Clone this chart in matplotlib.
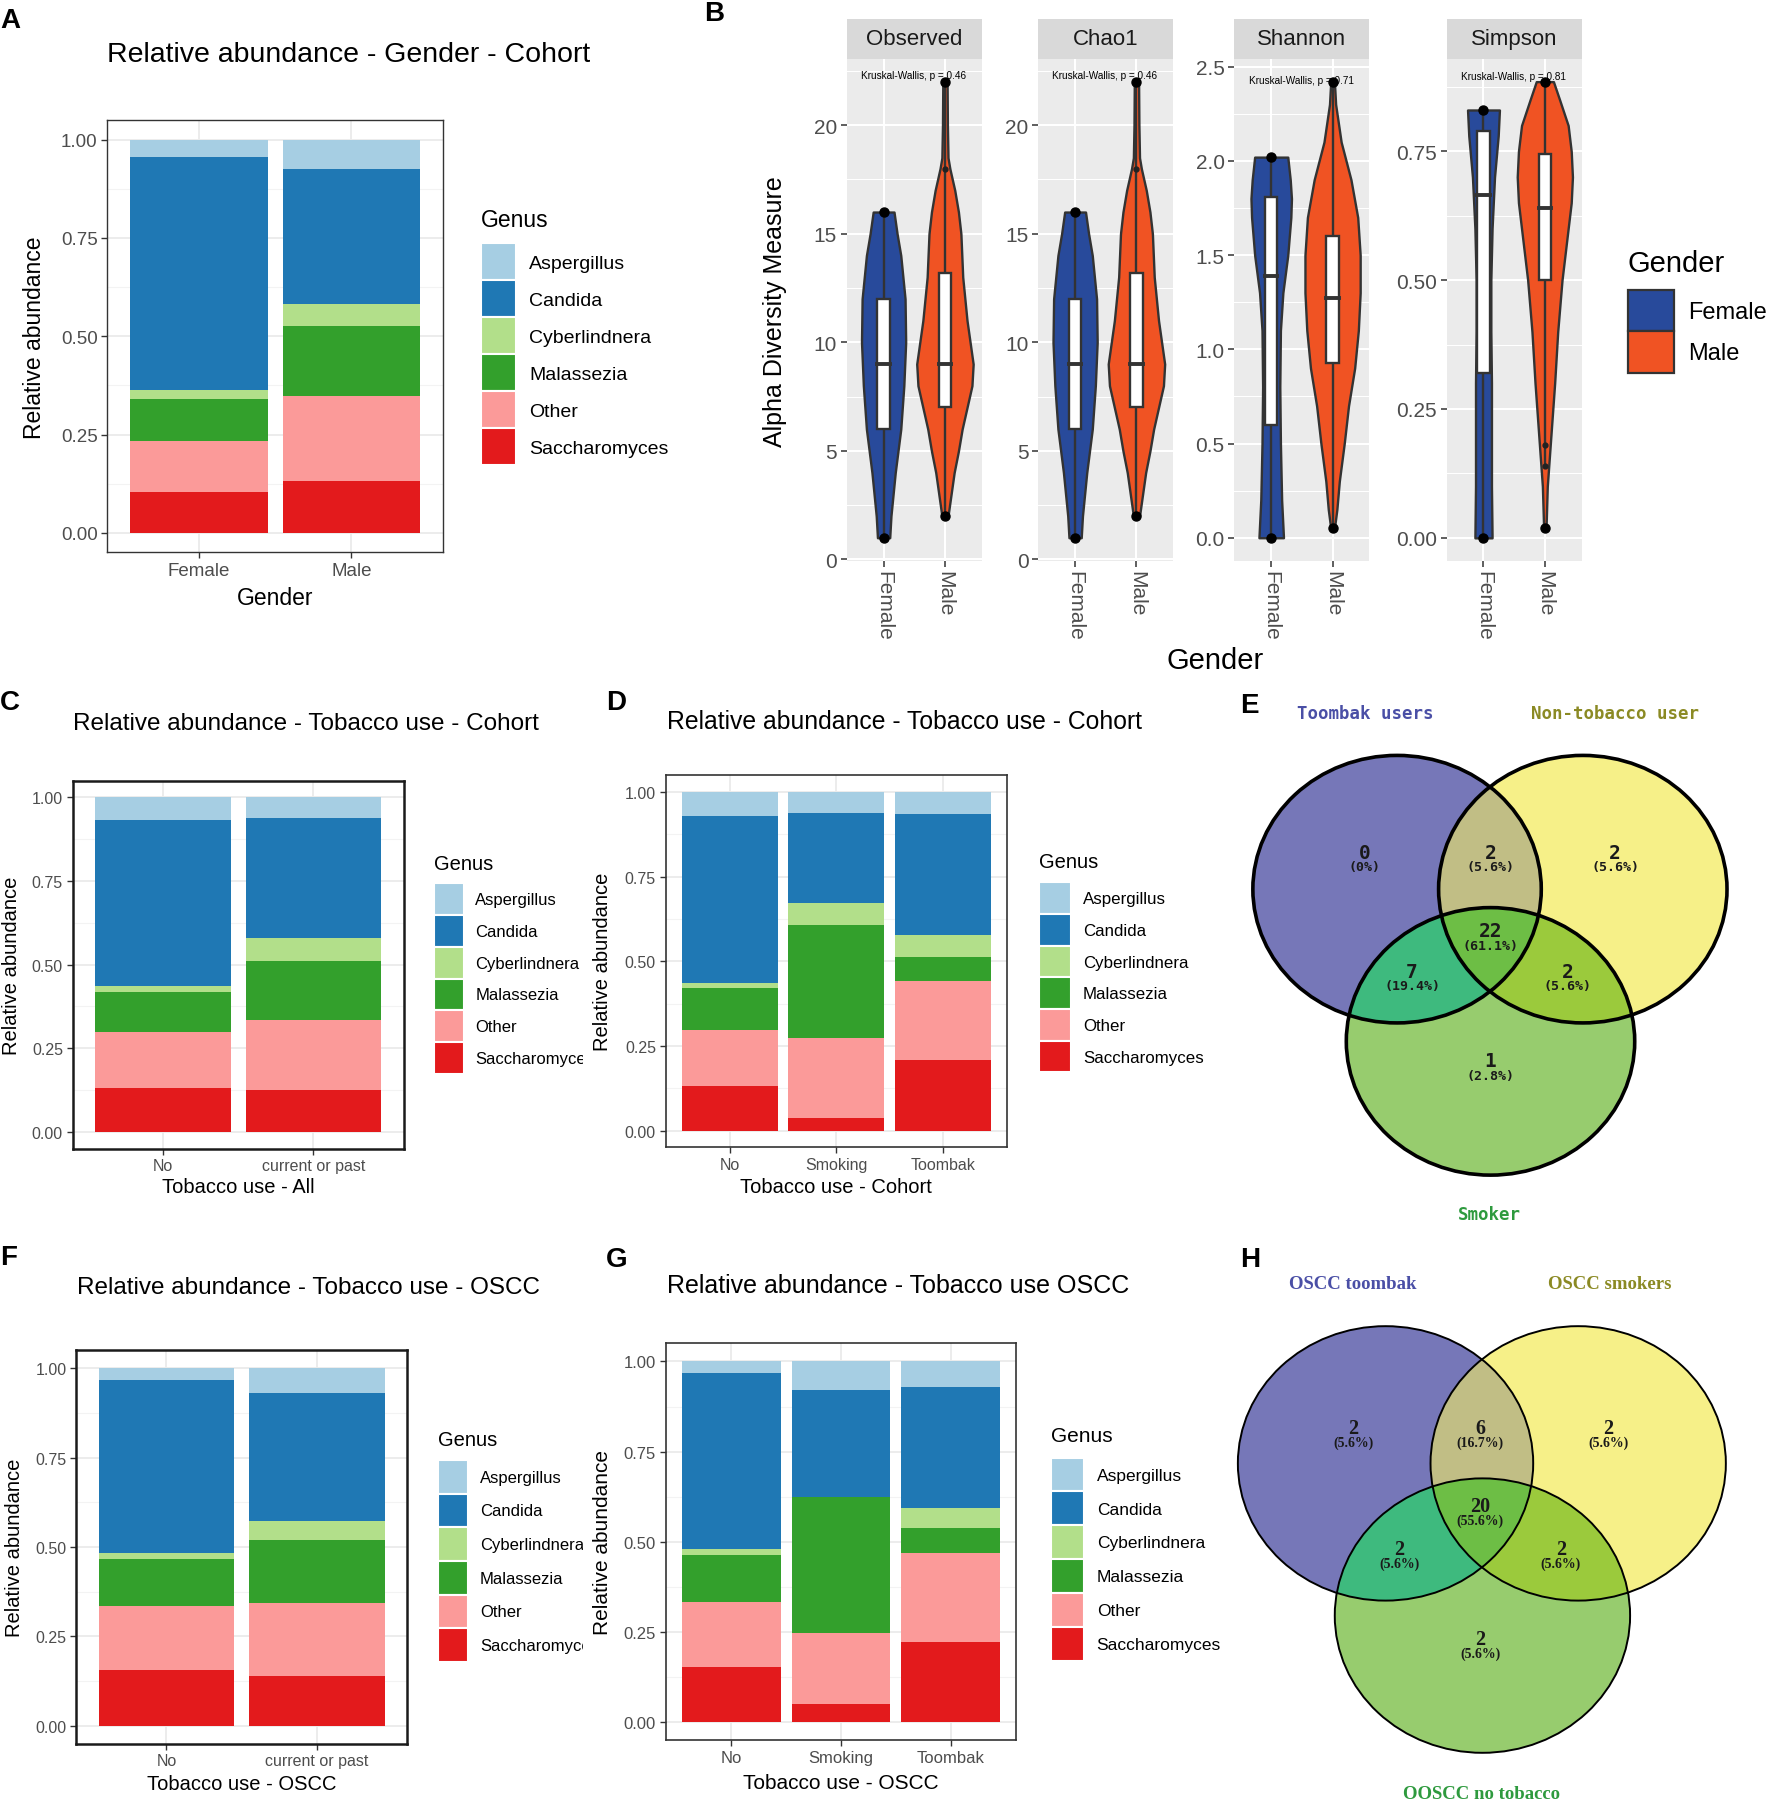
import numpy as np
import matplotlib
matplotlib.use('Agg')
import matplotlib.pyplot as plt
from matplotlib.patches import Patch, Rectangle, Ellipse, Polygon
from matplotlib.ticker import FixedLocator
from matplotlib.transforms import Bbox, TransformedBbox

plt.rcParams['font.family'] = ['Liberation Sans', 'DejaVu Sans']

# ── Data: relative abundance (segment heights, genus order) ──────────
genus = ['Aspergillus', 'Candida', 'Cyberlindnera', 'Malassezia', 'Other', 'Saccharomyces']
genus_colors = ['#A6CEE3', '#1F78B4', '#B2DF8A', '#33A02C', '#FB9A99', '#E31A1C']

A_groups = ['Female', 'Male']
A_abund = [[0.045, 0.591, 0.023, 0.107, 0.129, 0.105],
           [0.074, 0.345, 0.054, 0.179, 0.215, 0.133]]

C_groups = ['No', 'current or past']
C_abund = [[0.068, 0.495, 0.018, 0.121, 0.167, 0.131],
           [0.062, 0.358, 0.069, 0.177, 0.208, 0.126]]

D_groups = ['No', 'Smoking', 'Toombak']
D_abund = [[0.071, 0.492, 0.017, 0.122, 0.166, 0.132],
           [0.063, 0.265, 0.064, 0.335, 0.236, 0.037],
           [0.066, 0.358, 0.064, 0.069, 0.234, 0.209]]

F_groups = ['No', 'current or past']
F_abund = [[0.032, 0.486, 0.016, 0.131, 0.180, 0.155],
           [0.070, 0.358, 0.053, 0.176, 0.204, 0.139]]

G_groups = ['No', 'Smoking', 'Toombak']
G_abund = [[0.033, 0.486, 0.017, 0.131, 0.179, 0.154],
           [0.080, 0.296, 0.000, 0.377, 0.197, 0.050],
           [0.072, 0.333, 0.057, 0.069, 0.246, 0.223]]

# ── Data: alpha diversity (violin outline = level / half width) ─────
gender = ['Female', 'Male']
gender_colors = ['#284A9B', '#F05323']
measures = ['Observed', 'Chao1', 'Shannon', 'Simpson']
kw_p = ['0.46', '0.46', '0.71', '0.81']

obs_female_lv = [1, 2, 4, 6, 8, 10, 12, 14, 15, 16]
obs_female_hw = [0.10, 0.12, 0.19, 0.28, 0.33, 0.36, 0.35, 0.28, 0.22, 0.17]
obs_male_lv = [2, 3, 4, 5, 6, 7, 8, 9, 11, 13, 15, 16, 17, 18, 18.5, 20, 22]
obs_male_hw = [0.05, 0.10, 0.15, 0.22, 0.28, 0.36, 0.44, 0.46, 0.36, 0.29, 0.26,
               0.22, 0.16, 0.08, 0.05, 0.04, 0.035]
obs_box = [[6, 9, 12, 1, 16], [7, 9, 13.2, 2, 22]]   # q1, median, q3, lower, upper
obs_points = [[1, 16], [2, 22]]
obs_small = [[], [18]]

sha_female_lv = [0, 0.2, 0.5, 0.8, 1.1, 1.3, 1.5, 1.7, 1.8, 1.9, 2.02]
sha_female_hw = [0.20, 0.17, 0.15, 0.14, 0.15, 0.19, 0.27, 0.32, 0.33, 0.31, 0.27]
sha_male_lv = [0.05, 0.15, 0.3, 0.5, 0.7, 0.9, 1.1, 1.3, 1.5, 1.7, 1.9, 2.1, 2.3, 2.42]
sha_male_hw = [0.03, 0.07, 0.11, 0.19, 0.26, 0.36, 0.42, 0.45, 0.45, 0.41, 0.30, 0.14, 0.05, 0.03]
sha_box = [[0.6, 1.39, 1.81, 0, 2.02], [0.93, 1.27, 1.6, 0.05, 2.42]]
sha_points = [[0, 2.02], [0.05, 2.42]]
sha_small = [[], []]

sim_female_lv = [0, 0.1, 0.2, 0.3, 0.4, 0.5, 0.6, 0.7, 0.78, 0.83]
sim_female_hw = [0.14, 0.13, 0.13, 0.13, 0.12, 0.12, 0.14, 0.18, 0.24, 0.26]
sim_male_lv = [0.02, 0.1, 0.15, 0.2, 0.3, 0.4, 0.5, 0.6, 0.65, 0.7, 0.75, 0.8, 0.85, 0.885]
sim_male_hw = [0.02, 0.04, 0.07, 0.10, 0.16, 0.21, 0.28, 0.38, 0.43, 0.45, 0.43, 0.38, 0.24, 0.14]
sim_box = [[0.32, 0.665, 0.79, 0, 0.83], [0.5, 0.64, 0.745, 0.14, 0.885]]
sim_points = [[0, 0.83], [0.02, 0.885]]
sim_small = [[], [0.14, 0.18]]

# ── Data: Venn diagrams (regions: A, AB, B, ABC, AC, BC, C) ─────────
E_sets = ['Toombak users', 'Non-tobacco user', 'Smoker']
E_counts = ['0', '2', '2', '22', '7', '2', '1']
E_pcts = ['(0%)', '(5.6%)', '(5.6%)', '(61.1%)', '(19.4%)', '(5.6%)', '(2.8%)']

H_sets = ['OSCC toombak', 'OSCC smokers', 'OOSCC no tobacco']
H_counts = ['2', '6', '2', '20', '2', '2', '2']
H_pcts = ['(5.6%)', '(16.7%)', '(5.6%)', '(55.6%)', '(5.6%)', '(5.6%)', '(5.6%)']

venn_colors = ['#7677B8', '#C1BE85', '#F6F088', '#6DBE45', '#3EBA7E', '#9BCA3C', '#97CC6E']
set_text_colors = ['#4A4FA6', '#8B8A24', '#2E9A3E']

# ── Layout helpers (positions on a 1536 x 1568 grid) ────────────────
W, H = 1536, 1568
fig = plt.figure(figsize=(17.72, 18.08), dpi=100)


def frac(x0, y0, x1, y1):
    return [x0 / W, 1 - y1 / H, (x1 - x0) / W, (y1 - y0) / H]


def bar_panel(box, groups, abund, title, title_xy, xlabel, xlab_y, ylab_x,
              leg_xy, leg_title_y, fs, key, clip_x=None, frame='#333333', frame_lw=1.0):
    f_title, f_tick, f_axis, f_leg, f_legt = fs
    x0, y0, x1, y1 = box
    ax = fig.add_axes(frac(*box))
    vals = np.array(abund)
    xs = np.arange(len(groups))
    bottom = np.zeros(len(groups))
    for j in range(len(genus) - 1, -1, -1):
        ax.bar(xs, vals[:, j], width=0.9, bottom=bottom, color=genus_colors[j],
               linewidth=0, zorder=2)
        bottom += vals[:, j]
    ax.set_xlim(-0.6, len(groups) - 0.4)
    ax.set_ylim(-0.05, 1.05)
    ax.set_xticks(xs)
    ax.set_xticklabels(groups)
    ax.set_yticks([0, 0.25, 0.5, 0.75, 1.0])
    ax.set_yticklabels(['0.00', '0.25', '0.50', '0.75', '1.00'])
    ax.yaxis.set_minor_locator(FixedLocator([0.125, 0.375, 0.625, 0.875]))
    ax.grid(which='major', color='#EBEBEB', lw=1.3)
    ax.grid(which='minor', axis='y', color='#F3F3F3', lw=0.8)
    ax.set_axisbelow(True)
    ax.tick_params(which='major', length=4, width=1, color='#333333',
                   labelsize=f_tick, labelcolor='#4D4D4D', pad=3)
    ax.tick_params(which='minor', length=0)
    for s in ax.spines.values():
        s.set_color(frame)
        s.set_linewidth(frame_lw)
    fig.text(title_xy[0] / W, 1 - title_xy[1] / H, title, fontsize=f_title,
             ha='left', va='center')
    ax.set_xlabel(xlabel, fontsize=f_axis)
    ax.xaxis.set_label_coords(0.5, (y1 - xlab_y) / (y1 - y0))
    ax.xaxis.label.set_va('center')
    ax.set_ylabel('Relative abundance', fontsize=f_axis)
    ax.yaxis.set_label_coords((ylab_x - x0) / (x1 - x0), 0.5)
    ax.yaxis.label.set_va('center')
    # legend: title drawn separately so the gap above the keys matches ggplot
    fig.text(leg_xy[0] / W, 1 - leg_title_y / H, 'Genus', fontsize=f_legt,
             ha='left', va='center')
    handles = [Patch(facecolor=c, edgecolor='white', linewidth=1.5) for c in genus_colors]
    leg = ax.legend(handles, genus, loc='upper left',
                    bbox_to_anchor=(leg_xy[0] / W, 1 - leg_xy[1] / H),
                    bbox_transform=fig.transFigure, frameon=False, fontsize=f_leg,
                    handlelength=key[0], handleheight=key[1], labelspacing=0,
                    handletextpad=0.7, borderpad=0, borderaxespad=0)
    if clip_x is not None:
        cb = TransformedBbox(Bbox([[0, 0], [clip_x / W, 1]]), fig.transFigure)
        for t in leg.get_texts():
            t.set_clip_box(cb)
            t.set_clip_on(True)
    return ax


def violin_facet(xr, name, lv_f, hw_f, lv_m, hw_m, stats, pts, small,
                 ylim, yticks, yfmt, yminor, kw_y, p):
    ax = fig.add_axes(frac(xr[0], 52, xr[1], 487))
    ax.set_facecolor('#EBEBEB')
    for k, (lv, hw) in enumerate([(lv_f, hw_f), (lv_m, hw_m)]):
        c = k + 1
        lv = np.array(lv)
        hw = np.array(hw)
        ax.fill_betweenx(lv, c - hw, c + hw, facecolor=gender_colors[k],
                         edgecolor='#333333', lw=1.7, zorder=3)
        q1, med, q3, lo, hi = stats[k]
        ax.plot([c, c], [lo, hi], color='#333333', lw=1.7, zorder=4)
        ax.add_patch(Rectangle((c - 0.1, q1), 0.2, q3 - q1, facecolor='white',
                               edgecolor='#333333', lw=1.7, zorder=5))
        ax.plot([c - 0.1, c + 0.1], [med, med], color='#333333', lw=2.8, zorder=6)
        ax.plot([c] * len(pts[k]), pts[k], 'o', color='black', ms=6.5, zorder=7)
        if small[k]:
            ax.plot([c] * len(small[k]), small[k], 'o', color='#222222', ms=3.5, zorder=7)
    ax.text(0.63, kw_y, 'Kruskal-Wallis, p = ' + p, fontsize=7.2, ha='left',
            va='center', color='black', zorder=8)
    ax.set_xlim(0.4, 2.6)
    ax.set_ylim(*ylim)
    ax.set_xticks([1, 2])
    ax.set_xticklabels(gender, rotation=-90)
    ax.set_yticks(yticks)
    ax.set_yticklabels([yfmt.format(v) for v in yticks])
    ax.yaxis.set_minor_locator(FixedLocator(yminor))
    ax.grid(which='major', color='white', lw=1.5)
    ax.grid(which='minor', axis='y', color='white', lw=0.75)
    ax.set_axisbelow(True)
    ax.tick_params(which='major', length=4, width=1.1, color='#333333',
                   labelsize=15, labelcolor='#4D4D4D', pad=3)
    ax.tick_params(which='minor', length=0)
    for s in ax.spines.values():
        s.set_visible(False)
    sx = fig.add_axes(frac(xr[0], 17, xr[1], 52))
    sx.set_facecolor('#D9D9D9')
    sx.set_xticks([])
    sx.set_yticks([])
    for s in sx.spines.values():
        s.set_visible(False)
    sx.text(0.5, 0.5, name, fontsize=16, color='#1A1A1A', ha='center', va='center',
            transform=sx.transAxes)
    return ax


def venn_panel(box, centers, radii, lw, counts, pcts, spots, names, name_spots,
               family, fs_num, fs_pct, fs_name, dy):
    x0, y0, x1, y1 = box
    ax = fig.add_axes(frac(*box))
    ax.set_xlim(x0, x1)
    ax.set_ylim(y1, y0)
    ax.axis('off')

    def ell(i, **kw):
        return Ellipse(centers[i], 2 * radii[0], 2 * radii[1], transform=ax.transData, **kw)

    for i, col in zip(range(3), [venn_colors[0], venn_colors[2], venn_colors[6]]):
        ax.add_patch(ell(i, facecolor=col, edgecolor='none'))
    for (i, j), col in zip([(0, 1), (0, 2), (1, 2)],
                           [venn_colors[1], venn_colors[4], venn_colors[5]]):
        pt = ell(j, facecolor=col, edgecolor='none')
        ax.add_patch(pt)
        pt.set_clip_path(ell(i))
    # A∩B lens, clipped by C
    t = np.linspace(0, 2 * np.pi, 720, endpoint=False)
    pa = np.column_stack([centers[0][0] + radii[0] * np.cos(t), centers[0][1] + radii[1] * np.sin(t)])
    pb = np.column_stack([centers[1][0] + radii[0] * np.cos(t), centers[1][1] + radii[1] * np.sin(t)])

    def inside(q, c):
        return ((q[:, 0] - c[0]) / radii[0]) ** 2 + ((q[:, 1] - c[1]) / radii[1]) ** 2 <= 1

    lens = np.vstack([pa[inside(pa, centers[1])], pb[inside(pb, centers[0])]])
    m = lens.mean(axis=0)
    lens = lens[np.argsort(np.arctan2(lens[:, 1] - m[1], lens[:, 0] - m[0]))]
    tri = Polygon(lens, closed=True, facecolor=venn_colors[3], edgecolor='none',
                  transform=ax.transData)
    ax.add_patch(tri)
    tri.set_clip_path(ell(2))
    for i in range(3):
        ax.add_patch(ell(i, fill=False, edgecolor='black', lw=lw))
    for n, pc, (sx, sy) in zip(counts, pcts, spots):
        ax.text(sx, sy, n, fontsize=fs_num, fontweight='bold', family=family,
                ha='center', va='center', color='#1A1A1A')
        ax.text(sx, sy + dy, pc, fontsize=fs_pct, fontweight='bold', family=family,
                ha='center', va='center', color='#1A1A1A')
    for nm, (sx, sy), col in zip(names, name_spots, set_text_colors):
        ax.text(sx, sy, nm, fontsize=fs_name, fontweight='bold', family=family,
                ha='center', va='center', color=col)
    return ax


# ── Panel A ──────────────────────────────────────────────────────────
bar_panel((93, 105, 384, 480), A_groups, A_abund, 'Relative abundance - Gender - Cohort',
          (93, 48), 'Gender', 519, 30, (417, 212), 191,
          (20.5, 13.5, 16.5, 14, 16.5), (1.78, 2.55))

# ── Panel B ──────────────────────────────────────────────────────────
violin_facet((734, 851), measures[0], obs_female_lv, obs_female_hw, obs_male_lv, obs_male_hw,
             obs_box, obs_points, obs_small, (-0.05, 23.05), [0, 5, 10, 15, 20], '{:g}',
             [2.5, 7.5, 12.5, 17.5, 22.5], 22.3, kw_p[0])
violin_facet((900, 1017), measures[1], obs_female_lv, obs_female_hw, obs_male_lv, obs_male_hw,
             obs_box, obs_points, obs_small, (-0.05, 23.05), [0, 5, 10, 15, 20], '{:g}',
             [2.5, 7.5, 12.5, 17.5, 22.5], 22.3, kw_p[1])
violin_facet((1070, 1187), measures[2], sha_female_lv, sha_female_hw, sha_male_lv, sha_male_hw,
             sha_box, sha_points, sha_small, (-0.121, 2.541), [0, 0.5, 1.0, 1.5, 2.0, 2.5],
             '{:.1f}', [0.25, 0.75, 1.25, 1.75, 2.25], 2.43, kw_p[2])
violin_facet((1254, 1371), measures[3], sim_female_lv, sim_female_hw, sim_male_lv, sim_male_hw,
             sim_box, sim_points, sim_small, (-0.044, 0.929), [0, 0.25, 0.5, 0.75],
             '{:.2f}', [0.125, 0.375, 0.625, 0.875], 0.895, kw_p[3])
fig.text(672 / W, 1 - 270 / H, 'Alpha Diversity Measure', rotation=90, fontsize=18,
         ha='center', va='center')
fig.text(1053 / W, 1 - 573 / H, 'Gender', fontsize=21, ha='center', va='center')
fig.text(1411 / W, 1 - 229 / H, 'Gender', fontsize=21, ha='left', va='center')
g_handles = [Patch(facecolor=c, edgecolor='#333333', linewidth=1.6) for c in gender_colors]
fig.legend(g_handles, gender, loc='upper left',
           bbox_to_anchor=(1411 / W, 1 - 252 / H), frameon=False, fontsize=17,
           handlelength=1.95, handleheight=2.33, labelspacing=0,
           handletextpad=0.6, borderpad=0, borderaxespad=0)

# ── Panels C, D, F, G ───────────────────────────────────────────────
bar_panel((63, 678, 350, 997), C_groups, C_abund, 'Relative abundance - Tobacco use - Cohort',
          (63, 628), 'Tobacco use - All', 1030, 10, (376, 767), 750,
          (17.5, 11.5, 14.5, 12, 14.5), (1.8, 2.55), clip_x=505,
          frame='#1A1A1A', frame_lw=1.8)
bar_panel((577, 673, 873, 996), D_groups, D_abund, 'Relative abundance - Tobacco use - Cohort',
          (578, 626), 'Tobacco use - Cohort', 1030, 522, (901, 766), 748,
          (17.8, 11.5, 14.5, 12.2, 14.5), (1.87, 2.5), frame='#333333', frame_lw=1.2)
bar_panel((66, 1172, 353, 1513), F_groups, F_abund, 'Relative abundance - Tobacco use - OSCC',
          (67, 1117), 'Tobacco use - OSCC', 1548, 13, (380, 1267), 1249,
          (17.5, 11.5, 14.5, 12, 14.5), (1.8, 2.73), clip_x=505,
          frame='#1A1A1A', frame_lw=1.8)
bar_panel((577, 1166, 881, 1510), G_groups, G_abund, 'Relative abundance - Tobacco use OSCC',
          (578, 1115), 'Tobacco use - OSCC', 1547, 522, (911, 1265), 1246,
          (18, 12, 15, 12.5, 15), (1.93, 2.62), frame='#333333', frame_lw=1.2)

# ── Panels E, H (Venn) ──────────────────────────────────────────────
venn_panel((1060, 600, 1536, 1075), [(1211, 772), (1372, 772), (1292, 904)], (125, 116), 2.6,
           E_counts, E_pcts,
           [(1183, 740), (1292, 740), (1400, 740), (1292, 808), (1224, 843), (1359, 843), (1292, 921)],
           E_sets, [(1183, 619), (1400, 619), (1291, 1054)],
           'DejaVu Sans Mono', 14, 9.5, 12.5, 12.5)
venn_panel((1060, 1090, 1536, 1568), [(1201, 1270), (1368, 1270), (1285, 1402)], (128, 119), 1.4,
           H_counts, H_pcts,
           [(1173, 1239), (1283, 1239), (1394, 1239), (1283, 1307), (1213, 1344), (1353, 1344), (1283, 1422)],
           H_sets, [(1173, 1114), (1395, 1114), (1284, 1556)],
           'Liberation Serif', 14.5, 10, 13.5, 12.5)

# ── Panel letters ───────────────────────────────────────────────────
for letter, (lx, ly) in zip('ABCDEFGH', [(0, 18), (610, 12), (0, 610), (525, 610),
                                        (1075, 612), (0, 1091), (525, 1093), (1075, 1093)]):
    fig.text(lx / W, 1 - ly / H, letter, fontsize=20, fontweight='bold', ha='left', va='center')

fig.savefig('out.png', dpi=100)
